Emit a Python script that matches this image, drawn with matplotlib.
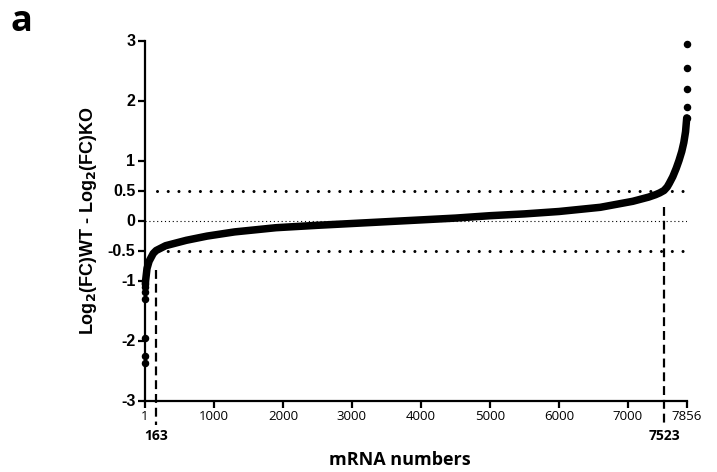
import matplotlib.pyplot as plt
import numpy as np

plt.rcParams["mathtext.default"] = "bf"

# ranked differences (rank, log2 FC difference)
rank = [1, 2, 3, 4, 5, 6, 7, 10, 30, 60, 120, 163, 300, 600, 900, 1300,
        1900, 2500, 3000, 3500, 4000, 4500, 5000, 5500, 6000, 6600, 7070,
        7300, 7400, 7460, 7523, 7570, 7600, 7650, 7700, 7740, 7780, 7810,
        7835, 7852, 7853, 7854, 7855, 7856]
diff = [-2.37, -2.26, -1.95, -1.30, -1.19, -1.11, -1.05, -1.00, -0.80, -0.68,
        -0.55, -0.50, -0.42, -0.33, -0.26, -0.19, -0.12, -0.08, -0.05, -0.02,
        0.01, 0.04, 0.08, 0.11, 0.15, 0.22, 0.32, 0.39, 0.43, 0.46, 0.50,
        0.56, 0.62, 0.73, 0.87, 1.00, 1.15, 1.30, 1.48, 1.71, 1.90, 2.19,
        2.54, 2.94]

yticks = [-3, -2, -1, -0.5, 0, 0.5, 1, 2, 3]
ytick_labels = ["-3", "-2", "-1", "-0.5", "0", "0.5", "1", "2", "3"]
xticks = [1, 1000, 2000, 3000, 4000, 5000, 6000, 7000, 7856]
cutoffs = [163, 7523]
threshold = 0.5

rank = np.array(rank)
diff = np.array(diff)

fig = plt.figure(figsize=(7.17, 4.72), dpi=100)
ax = fig.add_axes([145 / 717, 1 - 400.5 / 472, 542 / 717, 360 / 472])

# dense body of the curve drawn as a thick line, isolated tails as dots
body = (rank >= 7) & (rank <= 7852)
ax.plot(rank[body], diff[body], color="black", lw=5.4,
        solid_capstyle="round", solid_joinstyle="round", clip_on=False, zorder=3)
tails = ~body | (rank == 7) | (rank == 7852)
ax.plot(rank[tails], diff[tails], "o", color="black", ms=4.4,
        clip_on=False, zorder=3)

# threshold lines
for yv in (threshold, -threshold):
    ax.plot([175, 7800], [yv, yv], color="black", lw=2.2,
            linestyle=(0, (0.01, 3.5)), dash_capstyle="round", zorder=2)
ax.plot([1, 7856], [0, 0], color="black", lw=0.8, linestyle=(0, (1, 2.5)),
        zorder=1)

# cutoff ranks
ax.plot([cutoffs[0], cutoffs[0]], [-0.83, -3.4], color="black", lw=1.6,
        linestyle=(0, (4, 2.2)), clip_on=False, zorder=2)
ax.plot([cutoffs[1], cutoffs[1]], [0.22, -3.37], color="black", lw=1.6,
        linestyle=(0, (4, 2.2)), clip_on=False, zorder=2)
for c in cutoffs:
    ax.text(c, -3.6, str(c), ha="center", va="center", fontsize=10,
            fontweight="bold", family="Open Sans")

ax.set_xlim(1, 7856)
ax.set_ylim(-3, 3)
ax.set_yticks(yticks)
ax.set_yticklabels(ytick_labels, fontweight="bold", family="Liberation Sans",
                   fontsize=11.5)
ax.set_xticks(xticks)
ax.set_xticklabels([str(t) for t in xticks], family="Open Sans", fontsize=9.5)

for side in ("top", "right"):
    ax.spines[side].set_visible(False)
for side in ("left", "bottom"):
    ax.spines[side].set_linewidth(1.6)
ax.tick_params(direction="out", length=5, width=1.6, pad=2)

ax.set_ylabel(r"Log$_2$(FC)WT - Log$_2$(FC)KO", fontsize=13,
              fontweight="bold", family="Liberation Sans", labelpad=6)
fig.text(400 / 717, 1 - 460 / 472, "mRNA numbers", ha="center", va="center",
         fontsize=13, fontweight="bold", family="Open Sans")
fig.text(21 / 717, 1 - 22 / 472, "a", ha="center", va="center",
         fontsize=26, fontweight="bold", family="Open Sans")

fig.savefig("out.png", dpi=100)
